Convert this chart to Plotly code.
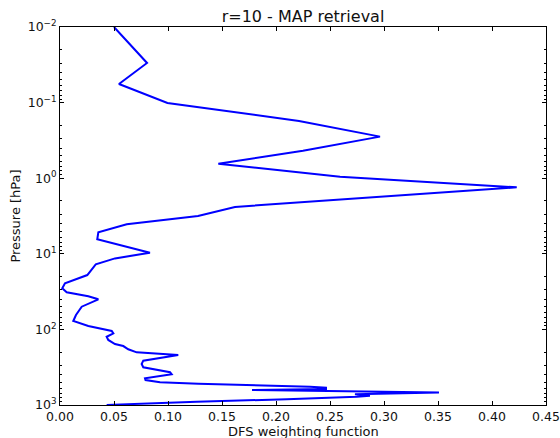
import plotly.graph_objects as go

# DFS weighting function profile (value vs. pressure level)
dfs = [
    0.050, 0.0806, 0.0546, 0.0995, 0.2213, 0.2963, 0.2250, 0.1466, 0.2593, 0.4229,
    0.1620, 0.1278, 0.0618, 0.0355, 0.0345, 0.0833, 0.0509, 0.0331, 0.0253, 0.0046,
    0.0021, 0.0062, 0.0262, 0.0355, 0.0201, 0.0169, 0.0148, 0.0123, 0.0262, 0.0479,
    0.0494, 0.0432, 0.0447, 0.0509, 0.0586, 0.0632, 0.0710, 0.1095, 0.0771, 0.0756,
    0.0771, 0.1019, 0.1034, 0.0787, 0.0792, 0.0926, 0.1281, 0.2315, 0.2463, 0.2463,
    0.1778, 0.3509, 0.2731, 0.2870, 0.2747, 0.2099, 0.1266, 0.0432,
]
pressure = [
    0.010, 0.0299, 0.0568, 0.101, 0.175, 0.282, 0.432, 0.643, 0.955, 1.319,
    2.40, 3.16, 4.07, 5.20, 6.43, 9.67, 11.5, 13.8, 19.1, 24.5,
    28.6, 32.3, 36.5, 40.0, 50.1, 57.1, 64.5, 77.4, 90.2, 105,
    113, 125, 138, 156, 166, 183, 201, 218, 259, 287,
    317, 369, 393, 443, 467, 501, 523, 573, 592, 614,
    634, 684, 722, 754, 777, 841, 904, 1000,
]

x_ticks = [0.00, 0.05, 0.10, 0.15, 0.20, 0.25, 0.30, 0.35, 0.40, 0.45]
y_exponents = [-2, -1, 0, 1, 2, 3]
y_ticks = [10.0 ** e for e in y_exponents]
y_ticktext = [f"10<sup>{'−' if e < 0 else ''}{abs(e)}</sup>" for e in y_exponents]

font = "DejaVu Sans"
ink = "#111"
W, H = 560, 438
margin = dict(l=60, r=14, t=27, b=33)
plot_h = H - margin["t"] - margin["b"]

fig = go.Figure(
    go.Scatter(
        x=dfs, y=pressure, mode="lines",
        line=dict(color="#0000ff", width=2),
        showlegend=False, hoverinfo="skip",
    )
)

axis_common = dict(
    showline=True, linecolor="black", linewidth=1, mirror="ticks",
    ticks="inside", tickcolor="black", ticklen=4, tickwidth=1,
    showgrid=False, zeroline=False, automargin=False,
    tickfont=dict(family=font, size=12.5, color=ink),
)

fig.update_xaxes(
    **axis_common,
    range=[0, 0.45], tickvals=x_ticks, tickformat=".2f",
)
fig.update_yaxes(
    **axis_common,
    type="log", range=[3, -2], tickvals=y_ticks, ticktext=y_ticktext,
    minor=dict(ticks="inside", ticklen=2, tickcolor="black", showgrid=False, dtick="D1"),
    title=dict(text="Pressure [hPa]", font=dict(family=font, size=13, color=ink), standoff=4),
)

# x-axis title placed as an annotation just under the tick labels
fig.add_annotation(
    text="DFS weighting function", showarrow=False,
    xref="paper", yref="paper", x=0.5, y=-(431 - (H - margin["b"])) / plot_h,
    xanchor="center", yanchor="middle",
    font=dict(family=font, size=13, color=ink),
)

fig.update_layout(
    width=W, height=H, margin=margin,
    paper_bgcolor="white", plot_bgcolor="white",
    title=dict(text="r=10 - MAP retrieval", x=0.5, xanchor="center", xref="paper",
               y=1 - 16 / H, yanchor="middle",
               font=dict(family=font, size=16, color=ink)),
)

fig.write_html("out.html")
